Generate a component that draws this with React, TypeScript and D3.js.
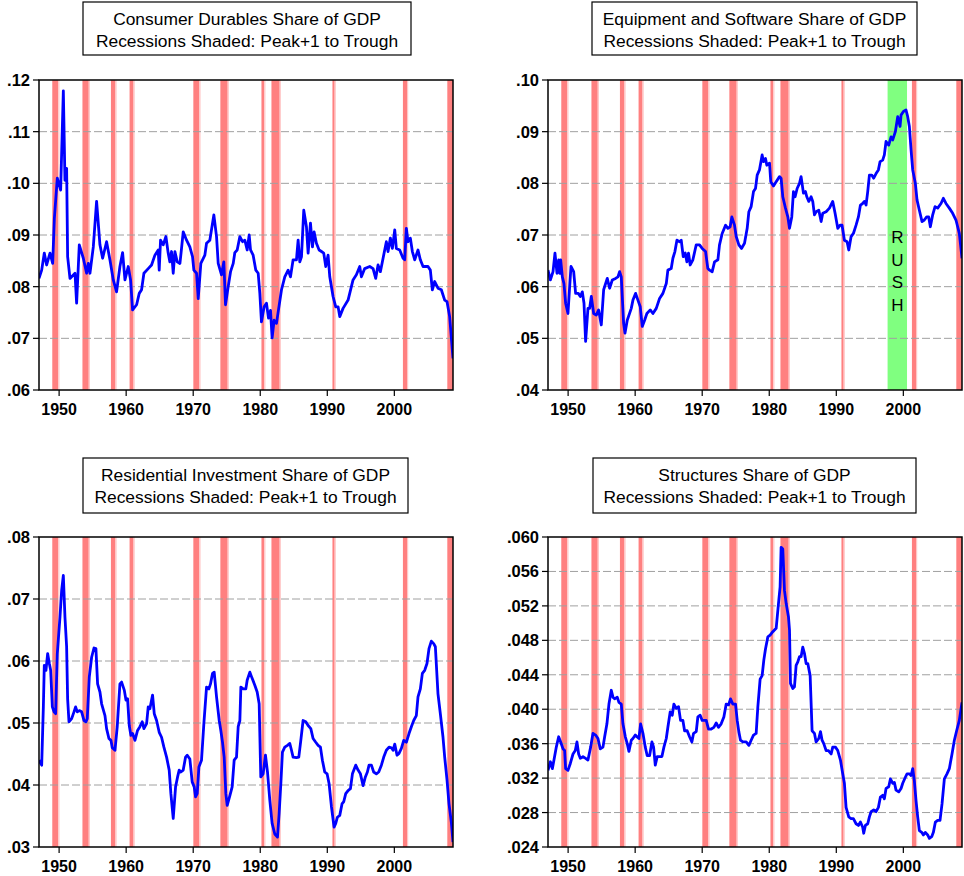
import React from 'react';
import * as d3 from 'd3';

type Pt = [number, number];

const YEAR_TICKS = [1950, 1960, 1970, 1980, 1990, 2000];
const X_DOMAIN: Pt = [1947, 2008.75];

const RECESSIONS: Pt[] = [
  [1948.98, 1949.88], [1953.48, 1954.42], [1957.73, 1958.4], [1960.51, 1961.1],
  [1970.02, 1970.92], [1974.05, 1975.14], [1980.18, 1980.6], [1981.67, 1982.9],
  [1990.77, 1991.1], [2001.28, 2001.89], [2007.9, 2008.75],
];
const RUSH_BAND: Pt = [1997.65, 2000.55];
const RUSH_LETTERS = ['R', 'U', 'S', 'H'];

const durables: Pt[] = [
  [1947.00,.0816],[1947.40,.0832],[1947.79,.0865],[1948.14,.0842],[1948.64,.0865],[1949.04,.0845],[1949.29,.0932],[1949.73,.1010],[1950.23,.0987],[1950.63,.1179],[1950.87,.1006],[1951.12,.1029],[1951.27,.0858],[1951.62,.0816],[1952.37,.0826],[1952.61,.0768],[1953.01,.0881],[1953.61,.0855],[1954.10,.0826],[1954.35,.0845],[1954.60,.0826],[1955.10,.0877],[1955.59,.0965],[1956.09,.0881],[1956.49,.0855],[1957.08,.0887],[1957.58,.0852],[1958.08,.0813],[1958.57,.0790],[1959.07,.0839],[1959.47,.0866],[1959.82,.0813],[1960.31,.0839],[1960.66,.0813],[1960.96,.0755],[1961.56,.0765],[1961.95,.0787],[1962.30,.0794],[1962.65,.0826],[1963.29,.0835],[1963.79,.0842],[1964.29,.0861],[1964.78,.0871],[1964.93,.0832],[1965.13,.0890],[1965.53,.0881],[1965.93,.0897],[1966.27,.0865],[1966.52,.0848],[1966.77,.0868],[1967.02,.0826],[1967.27,.0868],[1967.62,.0848],[1968.02,.0845],[1968.26,.0874],[1968.51,.0906],[1969.01,.0890],[1969.50,.0877],[1969.90,.0858],[1970.10,.0832],[1970.50,.0826],[1970.75,.0777],[1971.14,.0845],[1971.74,.0861],[1971.99,.0884],[1972.48,.0890],[1973.08,.0939],[1973.48,.0897],[1973.73,.0845],[1974.22,.0823],[1974.57,.0848],[1974.82,.0765],[1975.22,.0800],[1975.57,.0829],[1975.97,.0845],[1976.21,.0866],[1976.56,.0871],[1976.96,.0897],[1977.36,.0887],[1977.70,.0890],[1978.05,.0871],[1978.35,.0900],[1978.55,.0871],[1978.94,.0861],[1979.34,.0832],[1979.69,.0826],[1979.94,.0787],[1980.18,.0732],[1980.58,.0761],[1980.93,.0768],[1981.23,.0739],[1981.53,.0754],[1981.77,.0701],[1982.07,.0735],[1982.42,.0729],[1982.72,.0755],[1983.17,.0794],[1983.66,.0819],[1984.16,.0832],[1984.51,.0819],[1984.90,.0852],[1985.40,.0852],[1985.65,.0890],[1985.90,.0848],[1986.15,.0858],[1986.49,.0948],[1986.89,.0916],[1987.14,.0865],[1987.49,.0923],[1987.79,.0877],[1988.03,.0906],[1988.38,.0884],[1988.78,.0871],[1989.13,.0868],[1989.47,.0865],[1989.77,.0839],[1990.12,.0861],[1990.37,.0819],[1990.86,.0781],[1991.26,.0761],[1991.61,.0761],[1991.86,.0742],[1992.35,.0758],[1993.10,.0774],[1993.84,.0813],[1994.34,.0823],[1994.84,.0839],[1995.09,.0819],[1995.58,.0835],[1996.33,.0839],[1996.83,.0835],[1997.22,.0816],[1997.57,.0842],[1997.92,.0829],[1998.32,.0855],[1998.81,.0887],[1999.06,.0868],[1999.41,.0894],[1999.71,.0874],[2000.06,.0910],[2000.30,.0874],[2000.80,.0871],[2001.30,.0855],[2001.55,.0852],[2001.79,.0913],[2002.04,.0887],[2002.39,.0894],[2002.69,.0868],[2003.04,.0852],[2003.53,.0871],[2003.88,.0852],[2004.28,.0839],[2005.02,.0839],[2005.37,.0832],[2005.67,.0794],[2006.02,.0810],[2006.51,.0797],[2007.01,.0794],[2007.51,.0774],[2007.86,.0771],[2008.25,.0742],[2008.75,.0661],
];

const equipment: Pt[] = [
  [1947.00,.0632],[1947.35,.0613],[1947.75,.0629],[1948.04,.0665],[1948.34,.0626],[1948.59,.0652],[1948.74,.0626],[1948.89,.0652],[1949.14,.0619],[1949.38,.0606],[1949.63,.0568],[1949.98,.0548],[1950.23,.0600],[1950.43,.0639],[1950.83,.0629],[1951.12,.0587],[1951.52,.0587],[1951.82,.0581],[1952.12,.0590],[1952.37,.0568],[1952.61,.0494],[1952.96,.0558],[1953.21,.0558],[1953.46,.0581],[1953.81,.0548],[1954.20,.0545],[1954.55,.0555],[1954.95,.0526],[1955.30,.0594],[1955.84,.0616],[1956.19,.0597],[1956.59,.0613],[1957.08,.0616],[1957.43,.0619],[1957.68,.0629],[1957.93,.0619],[1958.28,.0529],[1958.48,.0510],[1958.82,.0535],[1959.42,.0558],[1959.67,.0574],[1960.07,.0587],[1960.41,.0574],[1960.76,.0561],[1961.06,.0523],[1961.41,.0535],[1961.75,.0548],[1962.25,.0555],[1962.65,.0548],[1963.15,.0558],[1963.64,.0577],[1964.14,.0587],[1964.64,.0606],[1964.88,.0632],[1965.38,.0635],[1965.63,.0655],[1965.93,.0668],[1966.23,.0690],[1966.62,.0687],[1966.87,.0690],[1967.17,.0658],[1967.47,.0665],[1967.72,.0648],[1967.96,.0665],[1968.21,.0642],[1968.61,.0652],[1969.11,.0681],[1969.60,.0681],[1970.00,.0674],[1970.50,.0668],[1970.84,.0635],[1971.09,.0632],[1971.49,.0629],[1971.84,.0648],[1972.34,.0652],[1972.58,.0681],[1972.98,.0703],[1973.48,.0719],[1973.83,.0713],[1974.17,.0716],[1974.42,.0735],[1974.82,.0719],[1975.07,.0697],[1975.47,.0681],[1975.86,.0674],[1976.31,.0684],[1976.71,.0713],[1976.96,.0745],[1977.30,.0755],[1977.65,.0784],[1977.95,.0790],[1978.20,.0816],[1978.54,.0826],[1978.94,.0855],[1979.14,.0842],[1979.44,.0848],[1979.64,.0835],[1980.04,.0839],[1980.23,.0803],[1980.63,.0795],[1981.03,.0803],[1981.53,.0813],[1981.77,.0810],[1982.02,.0774],[1982.42,.0752],[1982.77,.0735],[1983.02,.0713],[1983.36,.0735],[1983.61,.0784],[1983.86,.0774],[1984.16,.0790],[1984.51,.0800],[1984.75,.0813],[1985.10,.0781],[1985.40,.0784],[1985.60,.0774],[1985.90,.0765],[1986.24,.0774],[1986.49,.0765],[1986.74,.0739],[1986.99,.0745],[1987.39,.0748],[1987.74,.0726],[1987.98,.0742],[1988.48,.0745],[1988.98,.0752],[1989.47,.0765],[1989.82,.0742],[1990.22,.0713],[1990.57,.0719],[1990.86,.0719],[1991.21,.0690],[1991.61,.0687],[1991.86,.0671],[1992.21,.0697],[1992.55,.0703],[1992.95,.0719],[1993.30,.0735],[1993.60,.0758],[1993.94,.0761],[1994.19,.0765],[1994.44,.0758],[1994.69,.0784],[1994.94,.0816],[1995.29,.0816],[1995.58,.0810],[1995.93,.0819],[1996.28,.0826],[1996.53,.0842],[1996.92,.0845],[1997.17,.0855],[1997.42,.0881],[1997.82,.0874],[1998.17,.0890],[1998.42,.0884],[1998.81,.0900],[1999.16,.0929],[1999.51,.0910],[1999.66,.0932],[2000.01,.0939],[2000.40,.0942],[2000.65,.0929],[2000.90,.0910],[2001.15,.0865],[2001.40,.0826],[2001.79,.0800],[2002.04,.0768],[2002.39,.0748],[2002.79,.0726],[2003.13,.0729],[2003.48,.0735],[2003.78,.0735],[2004.03,.0716],[2004.38,.0739],[2004.73,.0755],[2005.12,.0752],[2005.62,.0761],[2005.97,.0771],[2006.36,.0761],[2006.86,.0752],[2007.36,.0742],[2007.85,.0729],[2008.35,.0703],[2008.75,.0655],
];

const residential: Pt[] = [
  [1947.00,.0440],[1947.40,.0432],[1947.65,.0526],[1947.79,.0593],[1948.04,.0585],[1948.29,.0612],[1948.54,.0596],[1948.74,.0585],[1948.99,.0526],[1949.24,.0518],[1949.48,.0515],[1949.73,.0612],[1950.13,.0671],[1950.38,.0714],[1950.63,.0738],[1950.87,.0671],[1951.12,.0623],[1951.27,.0539],[1951.47,.0502],[1951.87,.0507],[1952.22,.0518],[1952.46,.0526],[1952.71,.0518],[1953.01,.0520],[1953.36,.0518],[1953.71,.0504],[1954.00,.0502],[1954.20,.0507],[1954.50,.0574],[1954.85,.0606],[1955.20,.0621],[1955.49,.0620],[1955.74,.0563],[1956.09,.0550],[1956.34,.0531],[1956.84,.0512],[1957.08,.0491],[1957.43,.0475],[1957.73,.0472],[1957.93,.0460],[1958.33,.0456],[1958.67,.0494],[1959.07,.0563],[1959.32,.0566],[1959.72,.0553],[1959.97,.0537],[1960.21,.0539],[1960.46,.0496],[1960.71,.0480],[1960.96,.0483],[1961.31,.0472],[1961.70,.0488],[1962.05,.0494],[1962.40,.0502],[1962.65,.0491],[1963.05,.0499],[1963.29,.0526],[1963.54,.0523],[1963.94,.0545],[1964.19,.0515],[1964.54,.0504],[1964.93,.0485],[1965.28,.0477],[1965.63,.0461],[1966.03,.0445],[1966.42,.0424],[1966.67,.0386],[1967.02,.0346],[1967.37,.0397],[1967.67,.0413],[1967.91,.0424],[1968.16,.0421],[1968.51,.0424],[1968.86,.0445],[1969.11,.0448],[1969.50,.0442],[1969.85,.0405],[1970.15,.0397],[1970.35,.0381],[1970.60,.0386],[1970.85,.0429],[1971.24,.0440],[1971.59,.0499],[1971.99,.0558],[1972.34,.0555],[1972.58,.0563],[1972.88,.0580],[1973.13,.0582],[1973.48,.0542],[1973.88,.0504],[1974.12,.0488],[1974.37,.0469],[1974.62,.0445],[1974.87,.0386],[1975.07,.0367],[1975.47,.0383],[1975.81,.0397],[1976.11,.0440],[1976.46,.0445],[1976.71,.0494],[1976.96,.0504],[1977.11,.0558],[1977.46,.0555],[1977.85,.0555],[1978.05,.0569],[1978.45,.0582],[1978.79,.0572],[1979.19,.0561],[1979.54,.0550],[1979.84,.0531],[1980.08,.0413],[1980.43,.0418],[1980.78,.0448],[1981.08,.0421],[1981.43,.0375],[1981.77,.0338],[1982.17,.0321],[1982.57,.0316],[1982.82,.0354],[1983.07,.0402],[1983.31,.0453],[1983.66,.0461],[1984.06,.0464],[1984.41,.0467],[1984.66,.0456],[1984.90,.0445],[1985.40,.0444],[1985.75,.0445],[1986.05,.0472],[1986.39,.0504],[1986.79,.0502],[1987.14,.0496],[1987.54,.0491],[1987.88,.0475],[1988.28,.0469],[1988.63,.0464],[1988.98,.0461],[1989.27,.0440],[1989.62,.0421],[1989.97,.0418],[1990.27,.0402],[1990.62,.0365],[1991.01,.0332],[1991.26,.0338],[1991.51,.0348],[1991.86,.0351],[1992.21,.0370],[1992.45,.0373],[1992.75,.0386],[1993.10,.0391],[1993.45,.0394],[1993.75,.0418],[1994.24,.0432],[1994.59,.0424],[1994.94,.0418],[1995.34,.0399],[1995.68,.0413],[1995.98,.0421],[1996.23,.0432],[1996.58,.0432],[1996.92,.0421],[1997.32,.0418],[1997.67,.0421],[1998.07,.0432],[1998.42,.0445],[1998.81,.0456],[1999.21,.0461],[1999.56,.0460],[1999.81,.0456],[2000.06,.0466],[2000.40,.0448],[2000.70,.0451],[2001.05,.0459],[2001.40,.0472],[2001.79,.0469],[2002.19,.0483],[2002.54,.0494],[2002.89,.0504],[2003.28,.0512],[2003.53,.0542],[2003.88,.0555],[2004.18,.0580],[2004.53,.0585],[2004.87,.0596],[2005.17,.0620],[2005.52,.0632],[2005.87,.0628],[2006.12,.0623],[2006.51,.0547],[2006.86,.0515],[2007.26,.0477],[2007.51,.0445],[2007.86,.0408],[2008.15,.0370],[2008.50,.0340],[2008.75,.0308],
];

const structures: Pt[] = [
  [1947.00,.0329],[1947.35,.0339],[1947.65,.0331],[1947.89,.0341],[1948.24,.0356],[1948.59,.0368],[1948.89,.0362],[1949.24,.0354],[1949.48,.0352],[1949.63,.0331],[1949.98,.0329],[1950.33,.0337],[1950.73,.0348],[1951.07,.0352],[1951.32,.0362],[1951.57,.0348],[1951.82,.0343],[1952.22,.0345],[1952.61,.0343],[1952.96,.0341],[1953.36,.0356],[1953.71,.0372],[1954.10,.0370],[1954.45,.0366],[1954.80,.0354],[1955.20,.0356],[1955.45,.0368],[1955.79,.0383],[1956.09,.0406],[1956.44,.0422],[1956.69,.0414],[1956.94,.0412],[1957.33,.0414],[1957.58,.0408],[1957.93,.0406],[1958.18,.0383],[1958.53,.0368],[1958.82,.0360],[1959.07,.0351],[1959.42,.0364],[1959.67,.0366],[1960.02,.0370],[1960.26,.0368],[1960.56,.0366],[1960.81,.0383],[1961.16,.0372],[1961.51,.0356],[1961.80,.0346],[1962.15,.0346],[1962.50,.0362],[1962.75,.0356],[1963.00,.0335],[1963.29,.0345],[1963.64,.0345],[1963.99,.0345],[1964.29,.0356],[1964.64,.0366],[1964.88,.0379],[1965.23,.0397],[1965.53,.0393],[1965.78,.0406],[1966.13,.0401],[1966.47,.0403],[1966.77,.0387],[1967.12,.0387],[1967.37,.0375],[1967.76,.0375],[1968.11,.0368],[1968.46,.0362],[1968.71,.0372],[1969.11,.0374],[1969.35,.0391],[1969.70,.0393],[1970.00,.0387],[1970.35,.0387],[1970.60,.0387],[1970.94,.0377],[1971.34,.0377],[1971.74,.0379],[1972.09,.0384],[1972.43,.0379],[1972.83,.0383],[1973.23,.0391],[1973.58,.0406],[1973.93,.0405],[1974.22,.0412],[1974.57,.0406],[1974.97,.0406],[1975.22,.0387],[1975.46,.0374],[1975.71,.0364],[1976.06,.0362],[1976.56,.0362],[1976.96,.0358],[1977.30,.0364],[1977.65,.0370],[1978.05,.0372],[1978.30,.0403],[1978.64,.0435],[1978.94,.0439],[1979.19,.0457],[1979.44,.0470],[1979.79,.0484],[1980.13,.0486],[1980.53,.0490],[1980.78,.0492],[1981.03,.0494],[1981.38,.0523],[1981.62,.0542],[1981.77,.0588],[1982.02,.0586],[1982.27,.0538],[1982.52,.0523],[1982.87,.0507],[1983.02,.0492],[1983.17,.0430],[1983.51,.0424],[1983.76,.0426],[1984.01,.0451],[1984.26,.0455],[1984.51,.0461],[1984.75,.0461],[1985.00,.0472],[1985.25,.0465],[1985.50,.0453],[1985.75,.0453],[1986.10,.0439],[1986.39,.0375],[1986.74,.0372],[1986.99,.0362],[1987.39,.0366],[1987.64,.0374],[1987.88,.0364],[1988.13,.0360],[1988.48,.0352],[1988.83,.0352],[1989.23,.0348],[1989.47,.0356],[1989.87,.0356],[1990.22,.0352],[1990.62,.0341],[1990.96,.0325],[1991.21,.0314],[1991.46,.0286],[1991.86,.0275],[1992.21,.0273],[1992.55,.0273],[1992.95,.0267],[1993.30,.0265],[1993.60,.0269],[1993.94,.0263],[1994.09,.0256],[1994.34,.0265],[1994.69,.0267],[1994.94,.0275],[1995.19,.0281],[1995.58,.0283],[1995.93,.0281],[1996.28,.0286],[1996.58,.0298],[1996.92,.0300],[1997.17,.0296],[1997.42,.0308],[1997.82,.0310],[1998.07,.0319],[1998.42,.0314],[1998.66,.0315],[1998.91,.0306],[1999.31,.0304],[1999.66,.0308],[1999.91,.0314],[2000.30,.0321],[2000.55,.0325],[2000.90,.0325],[2001.15,.0323],[2001.40,.0331],[2001.64,.0317],[2001.89,.0294],[2002.14,.0275],[2002.39,.0259],[2002.74,.0257],[2002.99,.0254],[2003.28,.0257],[2003.63,.0254],[2003.88,.0250],[2004.23,.0252],[2004.48,.0257],[2004.78,.0269],[2005.12,.0271],[2005.47,.0271],[2005.77,.0290],[2006.12,.0319],[2006.51,.0325],[2006.86,.0331],[2007.26,.0348],[2007.61,.0364],[2007.95,.0375],[2008.35,.0387],[2008.75,.0408],
];

const TICKS_CD = [0.06, 0.07, 0.08, 0.09, 0.10, 0.11, 0.12];
const TICKS_ES = [0.04, 0.05, 0.06, 0.07, 0.08, 0.09, 0.10];
const TICKS_RI = [0.03, 0.04, 0.05, 0.06, 0.07, 0.08];
const TICKS_ST = [0.024, 0.028, 0.032, 0.036, 0.040, 0.044, 0.048, 0.052, 0.056, 0.060];

const SUBTITLE = 'Recessions Shaded: Peak+1 to Trough';

interface PanelSpec {
  id: string;
  title: string;
  data: Pt[];
  ticks: number[];
  decimals: number;
  left: number;
  top: number;
  box: [number, number, number, number];
  rush?: boolean;
}

const PLOT_W = 414;
const PLOT_H = 310;

const panels: PanelSpec[] = [
  { id: 'cd', title: 'Consumer Durables Share of GDP', data: durables, ticks: TICKS_CD, decimals: 2, left: 39, top: 80, box: [83, 2, 328, 53] },
  { id: 'es', title: 'Equipment and Software Share of GDP', data: equipment, ticks: TICKS_ES, decimals: 2, left: 548, top: 80, box: [592, 2, 325, 53], rush: true },
  { id: 'ri', title: 'Residential Investment Share of GDP', data: residential, ticks: TICKS_RI, decimals: 2, left: 39, top: 537, box: [83, 458, 325, 55] },
  { id: 'st', title: 'Structures Share of GDP', data: structures, ticks: TICKS_ST, decimals: 3, left: 548, top: 537, box: [593, 458, 323, 55] },
];

const FONT = 'Arial, "Liberation Sans", Helvetica, sans-serif';

function Panel({ p }: { p: PanelSpec }) {
  const x = d3.scaleLinear().domain(X_DOMAIN).range([p.left, p.left + PLOT_W]);
  const y = d3.scaleLinear().domain([p.ticks[0], p.ticks[p.ticks.length - 1]]).range([p.top + PLOT_H, p.top]);
  const line = d3.line<Pt>().x(d => x(d[0])).y(d => y(d[1]));
  const fmt = (v: number) => v.toFixed(p.decimals).replace(/^0/, '');
  const bottom = p.top + PLOT_H;
  const [bx, by, bw, bh] = p.box;
  return (
    <g>
      <defs>
        <clipPath id={`clip-${p.id}`}>
          <rect x={p.left} y={p.top} width={PLOT_W} height={PLOT_H} />
        </clipPath>
      </defs>
      <rect x={bx} y={by} width={bw} height={bh} fill="#fff" stroke="#000" strokeWidth={1.2} />
      <text x={bx + bw / 2} y={by + 23} textAnchor="middle" fontFamily={FONT} fontSize={17.4} fill="#000">{p.title}</text>
      <text x={bx + bw / 2} y={by + 45} textAnchor="middle" fontFamily={FONT} fontSize={17.4} fill="#000">{SUBTITLE}</text>
      <g clipPath={`url(#clip-${p.id})`}>
        <rect x={p.left} y={p.top} width={PLOT_W} height={PLOT_H} fill="#fff" />
        {RECESSIONS.map(([a, b], i) => (
          <g key={i}>
            <rect x={x(a)} y={p.top} width={Math.max(1, x(b) - x(a))} height={PLOT_H} fill="#FF8080" />
            <rect x={x(b)} y={p.top} width={1.2} height={PLOT_H} fill="#FFC8C8" />
          </g>
        ))}
        {p.rush && (
          <rect x={x(RUSH_BAND[0])} y={p.top} width={x(RUSH_BAND[1]) - x(RUSH_BAND[0])} height={PLOT_H} fill="#80FF80" />
        )}
        {p.ticks.slice(1, -1).map(t => (
          <line key={t} x1={p.left} x2={p.left + PLOT_W} y1={y(t)} y2={y(t)} stroke="#a0a0a0" strokeWidth={1} strokeDasharray="8,3" />
        ))}
        {p.rush && RUSH_LETTERS.map((ch, i) => (
          <text key={ch} x={(x(RUSH_BAND[0]) + x(RUSH_BAND[1])) / 2} y={243 + i * 22.5} textAnchor="middle" fontFamily={FONT} fontSize={17} fill="#000">{ch}</text>
        ))}
        <path d={line(p.data) || ''} fill="none" stroke="#0000FF" strokeWidth={2.8} strokeLinejoin="round" />
      </g>
      <rect x={p.left} y={p.top} width={PLOT_W} height={PLOT_H} fill="none" stroke="#000" strokeWidth={1.5} />
      {p.ticks.map(t => (
        <g key={t}>
          <line x1={p.left - 6} x2={p.left} y1={y(t)} y2={y(t)} stroke="#000" strokeWidth={1.2} />
          <text x={p.left - 9} y={y(t) + 6} textAnchor="end" fontFamily={FONT} fontWeight="bold" fontSize={16.5} fill="#000">{fmt(t)}</text>
        </g>
      ))}
      {YEAR_TICKS.map(yr => (
        <g key={yr}>
          <line x1={x(yr)} x2={x(yr)} y1={bottom} y2={bottom + 6} stroke="#000" strokeWidth={1.2} />
          <text x={x(yr)} y={bottom + 25} textAnchor="middle" fontFamily={FONT} fontWeight="bold" fontSize={16} fill="#000">{yr}</text>
        </g>
      ))}
    </g>
  );
}

export default function App() {
  return (
    <svg width={964} height={876} style={{ position: 'absolute', left: 0, top: 0, background: '#fff' }}>
      <rect width={964} height={876} fill="#fff" />
      {panels.map(p => <Panel key={p.id} p={p} />)}
    </svg>
  );
}
